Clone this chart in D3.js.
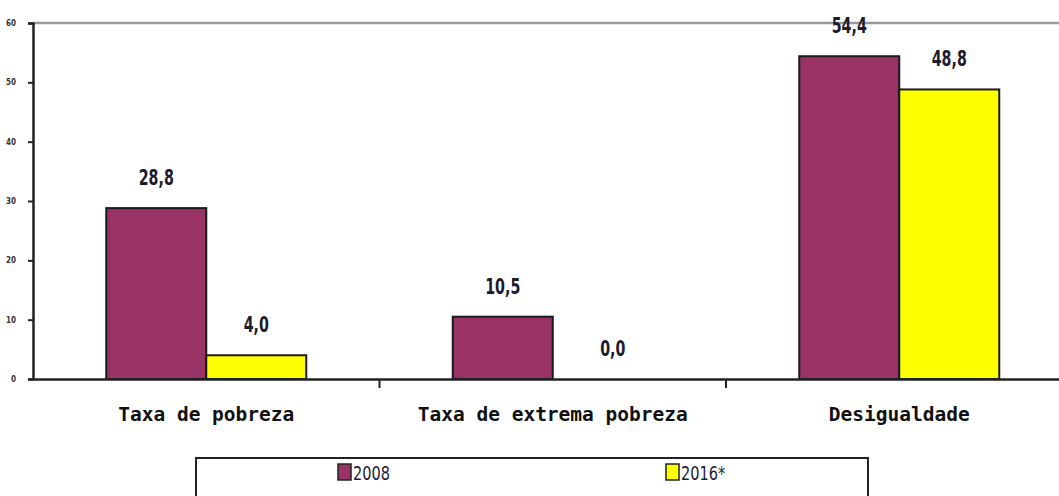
<!DOCTYPE html>
<html>
<head>
<meta charset="utf-8">
<script src="https://cdn.jsdelivr.net/npm/d3@7"></script>
<style>
  html, body { margin: 0; padding: 0; background: #fff; }
  svg { display: block; }
</style>
</head>
<body>
<svg id="chart" width="1059" height="496"></svg>
<script>
const categories = ['Taxa de pobreza', 'Taxa de extrema pobreza', 'Desigualdade'];
const seriesNames = ['2008', '2016*'];
const values2008 = [28.8, 10.5, 54.4];
const values2016 = [4.0, 0.0, 48.8];
const yTicks = [0, 10, 20, 30, 40, 50, 60];

const COLORS = { '2008': '#993366', '2016*': '#FFFF00' };
const W = 1059;
const margin = { top: 23, left: 33 };
const plotBottom = 379;
const plotRight = 1072.5;
const NARROW = '"Liberation Sans Narrow", "DejaVu Sans Condensed", sans-serif';

const svg = d3.select('#chart');

const rows = categories.map((c, i) => ({
  cat: c,
  '2008': values2008[i],
  '2016*': values2016[i],
}));

const x0 = d3.scaleBand().domain(categories).range([margin.left, plotRight]).paddingInner(0).paddingOuter(0);
const x1 = d3.scaleBand().domain(seriesNames).range([0, x0.bandwidth()]).paddingInner(0).paddingOuter(0.7325);
const y = d3.scaleLinear().domain([0, 60]).range([plotBottom, margin.top]);

const numFmt = v => v.toFixed(1).replace('.', ',');

// top frame line
svg.append('line')
  .attr('x1', margin.left).attr('x2', W)
  .attr('y1', y(60)).attr('y2', y(60))
  .attr('stroke', '#9a9a9a').attr('stroke-width', 2.5);

// bars
const catG = svg.selectAll('g.cat').data(rows).join('g')
  .attr('class', 'cat')
  .attr('transform', d => `translate(${x0(d.cat)},0)`);

catG.selectAll('rect')
  .data(d => seriesNames.map(s => ({ s, v: d[s] })))
  .join('rect')
  .attr('x', d => x1(d.s))
  .attr('y', d => y(d.v))
  .attr('width', x1.bandwidth())
  .attr('height', d => y(0) - y(d.v))
  .attr('fill', d => COLORS[d.s])
  .attr('stroke', d => (d.v > 0 ? '#1a1a1a' : 'none'))
  .attr('stroke-width', 2);

// value labels, squeezed horizontally like the original condensed face
catG.selectAll('text.val')
  .data(d => seriesNames.map(s => ({ s, v: d[s] })))
  .join('text')
  .attr('class', 'val')
  .attr('transform', d => {
    const cx = x1(d.s) + x1.bandwidth() / 2 + (d.v === 0 ? 10 : 0);
    return `translate(${cx},${y(d.v) - 23}) scale(0.72,1)`;
  })
  .attr('text-anchor', 'middle')
  .attr('font-family', NARROW)
  .attr('font-weight', 700)
  .attr('font-size', 22)
  .attr('fill', '#1c1c2e')
  .text(d => numFmt(d.v));

// y axis
svg.append('g')
  .attr('transform', `translate(${margin.left},0)`)
  .call(d3.axisLeft(y).tickValues(yTicks).tickSize(5).tickPadding(12).tickFormat(d3.format('d')))
  .call(a => a.select('.domain').attr('stroke', '#222').attr('stroke-width', 2.5))
  .call(a => a.selectAll('line').attr('stroke', '#222').attr('stroke-width', 2))
  .call(a => a.selectAll('text')
    .attr('font-family', NARROW)
    .attr('font-weight', 700)
    .attr('font-size', 8)
    .attr('fill', '#333'));

// x axis
svg.append('g')
  .attr('transform', `translate(0,${plotBottom})`)
  .call(d3.axisBottom(x0).tickSize(0).tickPadding(28))
  .call(a => a.select('.domain').attr('stroke', '#222').attr('stroke-width', 2.5))
  .call(a => a.selectAll('text')
    .attr('font-family', '"DejaVu Sans Mono", monospace')
    .attr('font-weight', 700)
    .attr('font-size', 19.5)
    .attr('fill', '#111'));

// category separators
svg.append('g').selectAll('line')
  .data(categories.slice(1))
  .join('line')
  .attr('x1', d => x0(d)).attr('x2', d => x0(d))
  .attr('y1', plotBottom).attr('y2', plotBottom + 9)
  .attr('stroke', '#222').attr('stroke-width', 2);

// legend
const legend = svg.append('g').attr('transform', 'translate(196,458)');
legend.append('rect')
  .attr('width', 672).attr('height', 60)
  .attr('fill', '#fff').attr('stroke', '#222').attr('stroke-width', 2);

const legendX = d3.scalePoint().domain(seriesNames).range([142, 470]);
const item = legend.selectAll('g.item').data(seriesNames).join('g')
  .attr('class', 'item')
  .attr('transform', d => `translate(${legendX(d)},0)`);
item.append('rect')
  .attr('y', 6).attr('width', 13).attr('height', 16)
  .attr('fill', d => COLORS[d])
  .attr('stroke', '#222').attr('stroke-width', 1.5);
item.append('text')
  .attr('transform', 'translate(15,22) scale(0.85,1)')
  .attr('font-family', NARROW)
  .attr('font-size', 19)
  .attr('fill', '#1c1c3a')
  .text(d => d);
</script>
</body>
</html>
